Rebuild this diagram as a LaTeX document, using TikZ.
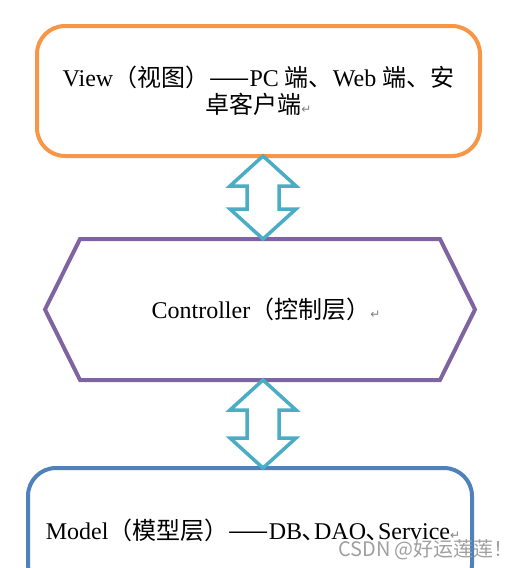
\documentclass[tikz,border=0pt]{standalone}
\usepackage{fontspec}
\setmainfont{Liberation Serif}
\newfontfamily\cjk{Noto Sans CJK SC}
\newfontfamily\symb{DejaVu Sans}
\usetikzlibrary{calc}

\definecolor{vieworange}{HTML}{F79646}
\definecolor{ctrlpurple}{HTML}{8064A2}
\definecolor{modelblue}{HTML}{4F81BD}
\definecolor{arrowteal}{HTML}{4BACC6}

% Word paragraph mark
\newcommand{\parmark}{{\symb\color{gray}\fontsize{12}{12}\selectfont ↵}}

% hollow double arrow between two points (top, bottom)
\newcommand{\dblarrow}[2]{%
  \draw[dblline] let \p1=(#1), \p2=(#2) in
    (\x1,\y1) -- (\x1+33pt,\y1-30pt) -- (\x1+16pt,\y1-30pt)
    -- (\x1+16pt,\y2+30pt) -- (\x1+33pt,\y2+30pt) -- (\x1,\y2)
    -- (\x1-33pt,\y2+30pt) -- (\x1-16pt,\y2+30pt)
    -- (\x1-16pt,\y1-30pt) -- (\x1-33pt,\y1-30pt) -- cycle;
}

\tikzset{
  layer/.style={font=\fontsize{24}{27}\selectfont, align=center, outer sep=0pt},
  viewbox/.style={layer, draw=vieworange, line width=4pt, rounded corners=28pt},
  ctrlbox/.style={layer},
  ctrlline/.style={draw=ctrlpurple, line width=4pt, line join=miter},
  modelbox/.style={layer, draw=modelblue, line width=4pt, rounded corners=28pt},
  dblline/.style={draw=arrowteal, line width=3.5pt, line join=miter},
}

\begin{document}
\begin{tikzpicture}[x=1pt, y=-1pt]

\useasboundingbox (0,0) rectangle (521,568);
\clip (0,0) rectangle (521,568);

% View
\node[viewbox, minimum width=443pt, minimum height=130pt] (view) at (258.5,91)
  {View{\cjk （视图）——}PC {\cjk 端、}Web {\cjk 端、安}\\{\cjk 卓客户端}\parmark};

% Controller
\node[ctrlbox, minimum width=360pt, minimum height=141pt] (ctrl) at (260,309.5)
  {\hspace*{12pt}Controller{\cjk （控制层）}\parmark};
\draw[ctrlline] (ctrl.north west) -- (ctrl.north east) -- ($(ctrl.east)+(35,0)$)
  -- (ctrl.south east) -- (ctrl.south west) -- ($(ctrl.west)+(-35,0)$) -- cycle;

% Model
\node[modelbox, minimum width=444pt, minimum height=124pt] (model) at (250,530)
  {\hspace*{6pt}Model{\cjk （模型层）——}DB{\cjk ､}DAO{\cjk ､}Service\parmark};

% Pfeile
\coordinate (arrx) at (263,0);
\dblarrow{view.south -| arrx}{ctrl.north -| arrx}
\dblarrow{ctrl.south -| arrx}{model.north -| arrx}

% watermark
\node[text=gray!75, font={\cjk\fontsize{20}{20}\selectfont}] (mark) at (426,550)
  {CSDN @好运莲莲！};

\end{tikzpicture}
\end{document}
